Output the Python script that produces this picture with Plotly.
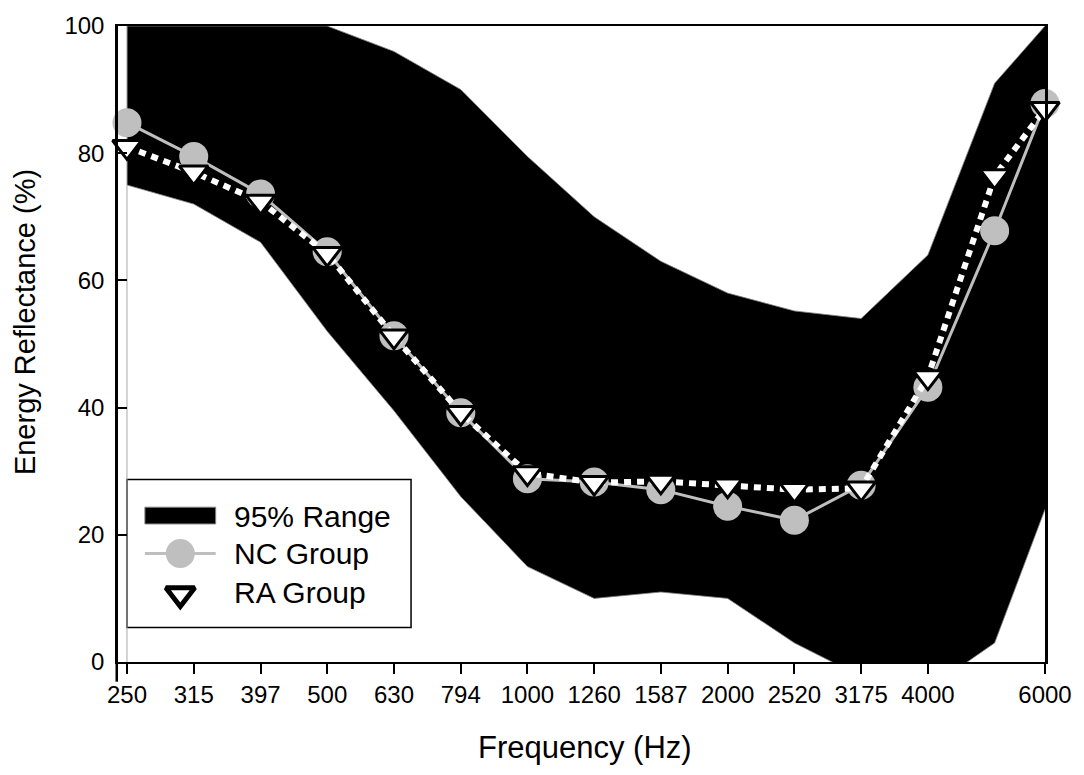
import plotly.graph_objects as go
import math

# ---------------- data ----------------
freq = [250, 315, 397, 500, 630, 794, 1000, 1260, 1587, 2000, 2520, 3175, 4000, 5040, 6000]
range_upper = [100, 100, 100, 100, 96, 90, 79.5, 70, 63, 58, 55.2, 54, 64, 91, 100]
range_lower = [75, 72, 66, 52, 39.5, 26, 15, 10, 11, 10, 3, -2.3, -4.3, 3, 24]
nc_group = [84.8, 79.5, 73.6, 64.5, 51.3, 39.2, 28.8, 28.3, 27.1, 24.5, 22.3, 27.8, 43.2, 67.8, 87.8]
ra_group = [81, 77, 72.4, 64.2, 51.2, 39.2, 29.7, 28.2, 28.4, 27.8, 27.1, 27.3, 44.8, 76.4, 87]
tick_vals = [250, 315, 397, 500, 630, 794, 1000, 1260, 1587, 2000, 2520, 3175, 4000, 6000]
tick_text = [str(v) for v in tick_vals]
y_ticks = [0, 20, 40, 60, 80, 100]
ref_line_x = [250, 250]
ref_line_y = [0, 100]
legend_labels = ["95% Range", "NC Group", "RA Group"]

FONT = "Liberation Sans, Arial, sans-serif"
NC_COLOR = "#bfbfbf"

# plot-area pixel geometry
L, R, T, B = 118, 1048, 17, 662
W, H = 1084, 775


def px_x(p):
    return (p - L) / (R - L)


def px_y(p):
    return (B - p) / (B - T)


fig = go.Figure()

# 95% range band
fig.add_trace(go.Scatter(x=freq, y=range_lower, mode="lines",
                         line=dict(color="#808080", width=0.8),
                         showlegend=False, hoverinfo="skip"))
fig.add_trace(go.Scatter(x=freq, y=range_upper, mode="lines", fill="tonexty",
                         fillcolor="black", line=dict(color="#808080", width=0.8),
                         showlegend=False, name=legend_labels[0]))
# thin reference line at 250 Hz
fig.add_trace(go.Scatter(x=ref_line_x, y=ref_line_y, mode="lines",
                         line=dict(color="#a8a8a8", width=1),
                         showlegend=False, hoverinfo="skip"))
# NC group
fig.add_trace(go.Scatter(x=freq, y=nc_group, mode="lines+markers",
                         line=dict(color=NC_COLOR, width=3),
                         marker=dict(symbol="circle", size=29, color=NC_COLOR),
                         showlegend=False, name=legend_labels[1], cliponaxis=False))
# RA group
fig.add_trace(go.Scatter(x=freq, y=ra_group, mode="lines+markers",
                         line=dict(color="white", width=6, dash="7px,6px"),
                         marker=dict(symbol="triangle-down", size=25, color="white",
                                     line=dict(color="black", width=3)),
                         showlegend=False, name=legend_labels[2], cliponaxis=False))

# ---------------- manual legend on pixel overlay axes ----------------
leg_x0, leg_x1, leg_y0, leg_y1 = 127, 412, 477, 627
sym_x0, sym_x1 = 145, 216
sym_cx = (sym_x0 + sym_x1) / 2
row_y = [514, 552, 592]

fig.add_trace(go.Scatter(x=[sym_cx], y=[row_y[1]], mode="markers", xaxis="x2", yaxis="y2",
                         marker=dict(symbol="circle", size=29, color=NC_COLOR),
                         showlegend=False, hoverinfo="skip"))
fig.add_trace(go.Scatter(x=[sym_cx], y=[row_y[2] + 1], mode="markers", xaxis="x2", yaxis="y2",
                         marker=dict(symbol="triangle-down", size=25, color="white",
                                     line=dict(color="black", width=5)),
                         showlegend=False, hoverinfo="skip"))

shapes = [
    dict(type="rect", xref="x2", yref="y2", x0=leg_x0, x1=leg_x1, y0=leg_y0, y1=leg_y1,
         line=dict(color="black", width=1.5), fillcolor="white", layer="below"),
    dict(type="rect", xref="x2", yref="y2", x0=sym_x0, x1=sym_x1, y0=row_y[0] - 9, y1=row_y[0] + 8,
         line=dict(color="#808080", width=1), fillcolor="black", layer="below"),
    dict(type="line", xref="x2", yref="y2", x0=sym_x0, x1=sym_x1, y0=row_y[1], y1=row_y[1],
         line=dict(color=NC_COLOR, width=3), layer="below"),
    # y-axis line extension below the x axis
    dict(type="line", xref="paper", yref="paper", x0=-1.25 / (R - L), x1=-1.25 / (R - L),
         y0=0, y1=-20 / (B - T), line=dict(color="black", width=2.5)),
]

annotations = []
for lbl, yy in zip(legend_labels, row_y):
    annotations.append(dict(text=lbl, xref="paper", yref="paper", x=px_x(232), y=px_y(yy),
                            xanchor="left", yanchor="middle", showarrow=False,
                            font=dict(family=FONT, size=30, color="black")))
annotations.append(dict(text="Frequency (Hz)", xref="paper", yref="paper",
                        x=px_x(587), y=px_y(749),
                        xanchor="center", yanchor="middle", showarrow=False,
                        font=dict(family=FONT, size=31, color="black")))
annotations.append(dict(text="Energy Reflectance (%)", xref="paper", yref="paper",
                        x=px_x(25), y=px_y(317),
                        xanchor="center", yanchor="middle", textangle=-90, showarrow=False,
                        font=dict(family=FONT, size=29, color="black")))

x_lo = 250 * 10 ** (-(127 - L) / ((1048 - 127) / math.log10(6000 / 250)))

fig.update_layout(
    width=W, height=H,
    margin=dict(l=L, r=W - R, t=T, b=H - B, pad=0),
    paper_bgcolor="white", plot_bgcolor="white",
    font=dict(family=FONT, size=24, color="black"),
    showlegend=False,
    xaxis=dict(type="log", range=[math.log10(x_lo), math.log10(6000)],
               tickmode="array", tickvals=tick_vals, ticktext=tick_text,
               ticks="outside", ticklen=10, tickwidth=1.5, tickcolor="black",
               showline=True, linecolor="black", linewidth=2, mirror=True,
               showgrid=False, zeroline=False, ticklabelstandoff=0,
               tickfont=dict(family=FONT, size=24)),
    yaxis=dict(range=[0, 100], tickmode="array", tickvals=y_ticks,
               ticks="inside", ticklen=9, tickwidth=1.5, tickcolor="black",
               showline=True, linecolor="black", linewidth=2.5, mirror=True,
               showgrid=False, zeroline=False, ticklabelstandoff=6,
               tickfont=dict(family=FONT, size=24)),
    xaxis2=dict(overlaying="x", range=[L, R], visible=False, anchor="y2"),
    yaxis2=dict(overlaying="y", range=[B, T], visible=False, anchor="x2"),
    shapes=shapes,
    annotations=annotations,
)

fig.write_html("out.html")
